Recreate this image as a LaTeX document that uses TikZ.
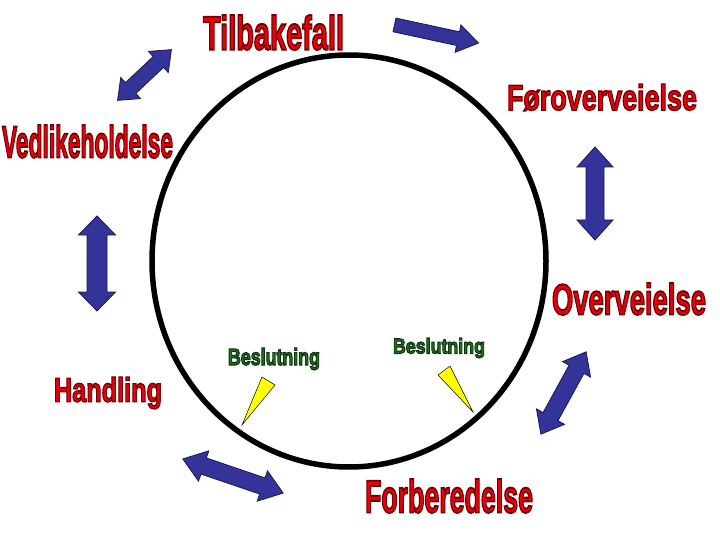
\documentclass[tikz,border=0pt]{standalone}
\usepackage{fontspec}
\setmainfont{Liberation Sans}
\usepackage{graphicx}
\definecolor{wred}{HTML}{E8000E}
\definecolor{wgreen}{HTML}{24702A}
\definecolor{ablue}{HTML}{333399}
\definecolor{aline}{HTML}{1A1A4D}
\definecolor{tyellow}{HTML}{FFFF00}

% text with a thin dark outline (fill + stroke render mode)
\newcommand\wordart[6]{% width, height, stroke rgb, stroke width, fill colour, text
 {\color{#5}\special{pdf:literal direct q 2 Tr #4 w #3 RG}%
 \resizebox*{#1}{#2}{\bfseries #6}%
 \special{pdf:literal direct Q}}}

\tikzset{
  arrowsty/.style={fill=ablue, draw=aline, line width=0.8pt, line join=miter},
  wlabel/.style={anchor=north west, inner sep=0pt, outer sep=0pt},
  pointer/.style={fill=tyellow, draw=black, line width=0.5pt, line join=miter}
}
% centre x, centre y, angle, length, shaft half width, head half width, head length
\newcommand\dblarrow[7]{%
 \filldraw[arrowsty, shift={(#1,#2)}, rotate=#3]
  ({-#4/2},0) -- ({-#4/2+#7},{#6}) -- ({-#4/2+#7},{#5}) -- ({#4/2-#7},{#5})
  -- ({#4/2-#7},{#6}) -- ({#4/2},0) -- ({#4/2-#7},{-#6}) -- ({#4/2-#7},{-#5})
  -- ({-#4/2+#7},{-#5}) -- ({-#4/2+#7},{-#6}) -- cycle;}
\newcommand\sglarrow[7]{%
 \filldraw[arrowsty, shift={(#1,#2)}, rotate=#3]
  ({-#4/2},{#5}) -- ({#4/2-#7},{#5}) -- ({#4/2-#7},{#6}) -- ({#4/2},0)
  -- ({#4/2-#7},{-#6}) -- ({#4/2-#7},{-#5}) -- ({-#4/2},{-#5}) -- cycle;}

\begin{document}
\begin{tikzpicture}[x=1pt, y=-1pt]
\useasboundingbox[fill=white] (0,0) rectangle (720,540);

% circle
\draw[line width=5.5pt] (349,261) ellipse [x radius=197, y radius=206];

% arrows
\sglarrow{436.5}{34}{-12.2}{86}{7}{14}{21}
\dblarrow{144.5}{75}{43.3}{74}{7.5}{14.5}{18}
\dblarrow{595}{193.5}{90}{93}{9}{18}{20}
\dblarrow{97}{263.5}{90}{95}{10}{18.5}{19}
\dblarrow{563.5}{393}{61.2}{94}{8.5}{16}{20}
\dblarrow{233}{476}{-18.8}{106}{8.5}{16}{22}

% yellow pointers
\filldraw[pointer] (262,377) -- (275,385) -- (242,425) -- cycle;
\filldraw[pointer] (438,375) -- (450,366) -- (473,412) -- cycle;

% labels
\node[wlabel] (tilbakefall) at (203,15) {\wordart{141pt}{35pt}{0.45 0 0}{0.4}{wred}{Tilbakefall}};
\node[wlabel] (foroverveielse) at (507,84) {\wordart{190pt}{27pt}{0.45 0 0}{0.4}{wred}{Føroverveielse}};
\node[wlabel] (vedlikeholdelse) at (2,125) {\wordart{171pt}{33pt}{0.45 0 0}{0.4}{wred}{Vedlikeholdelse}};
\node[wlabel] (overveielse) at (552,283) {\wordart{154pt}{32pt}{0.45 0 0}{0.4}{wred}{Overveielse}};
\node[wlabel] (forberedelse) at (365,479) {\wordart{168pt}{34pt}{0.45 0 0}{0.4}{wred}{Forberedelse}};
\node[wlabel] (handling) at (54,377) {\wordart{108pt}{32pt}{0.45 0 0}{0.4}{wred}{Handling}};
\node[wlabel] (beslutning1) at (228,348) {\wordart{92pt}{22pt}{0.05 0.2 0.05}{0.5}{wgreen}{Beslutning}};
\node[wlabel] (beslutning2) at (393,338) {\wordart{92pt}{20pt}{0.05 0.2 0.05}{0.5}{wgreen}{Beslutning}};
\end{tikzpicture}
\end{document}
